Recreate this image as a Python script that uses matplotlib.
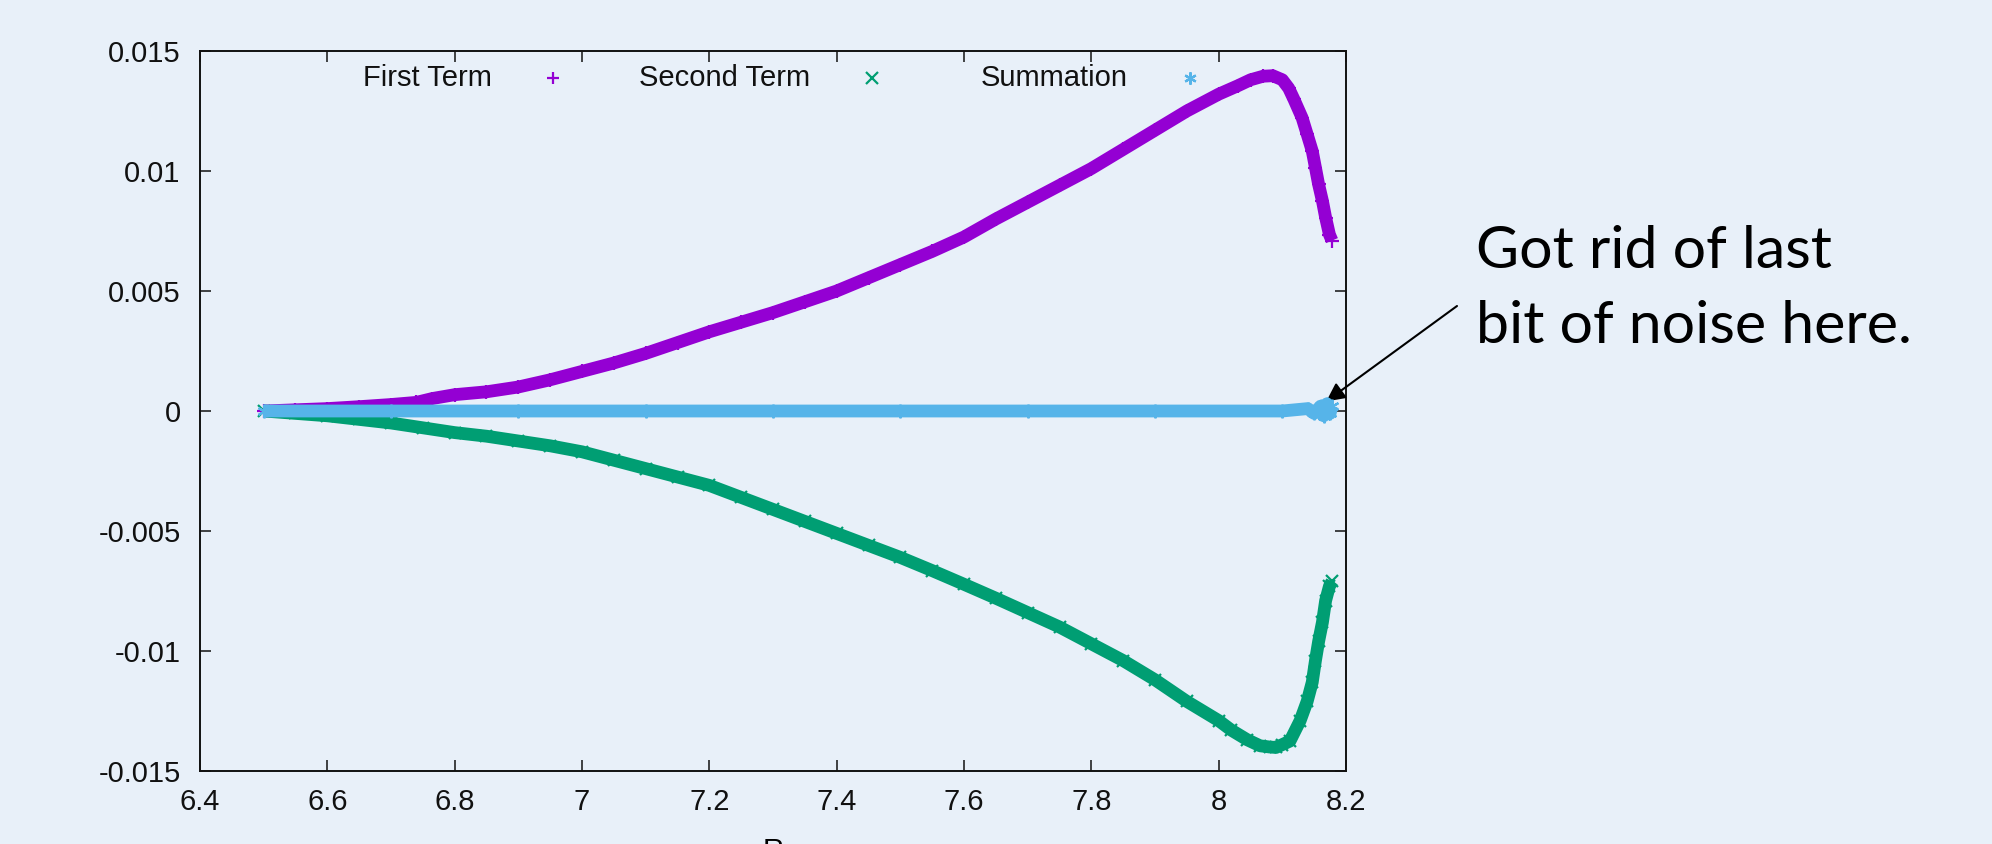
import matplotlib
matplotlib.use("Agg")
import matplotlib.pyplot as plt

# ---- data ----
first_x = [6.50, 6.55, 6.60, 6.65, 6.70, 6.74, 6.765, 6.80, 6.85, 6.90, 6.95, 7.00,
           7.05, 7.10, 7.15, 7.20, 7.25, 7.30, 7.35, 7.40, 7.45, 7.50, 7.55, 7.60,
           7.65, 7.70, 7.75, 7.80, 7.85, 7.90, 7.95, 8.00, 8.03, 8.05, 8.07, 8.085,
           8.10, 8.11, 8.118, 8.131, 8.139, 8.147, 8.152, 8.157, 8.163, 8.168,
           8.174, 8.178]
first_y = [0.0, 0.00005, 0.0001, 0.00018, 0.00027, 0.00036, 0.00052, 0.00068, 0.0008,
           0.0010, 0.0013, 0.00165, 0.0020, 0.0024, 0.00285, 0.0033, 0.0037, 0.0041,
           0.00455, 0.0050, 0.00555, 0.0061, 0.00665, 0.00725, 0.0080, 0.0087, 0.0094,
           0.0101, 0.0109, 0.0117, 0.0125, 0.0132, 0.01355, 0.0138, 0.01395, 0.01397,
           0.0138, 0.01345, 0.0130, 0.01222, 0.01153, 0.01083, 0.01014, 0.00944,
           0.00875, 0.00806, 0.00735, 0.0071]

second_x = [6.50, 6.55, 6.60, 6.65, 6.70, 6.75, 6.80, 6.85, 6.90, 6.95, 7.00, 7.05,
            7.10, 7.15, 7.20, 7.25, 7.30, 7.35, 7.40, 7.45, 7.50, 7.55, 7.60, 7.65,
            7.70, 7.75, 7.80, 7.85, 7.90, 7.95, 8.00, 8.02, 8.045, 8.065, 8.08, 8.09,
            8.10, 8.112, 8.128, 8.139, 8.147, 8.152, 8.157, 8.163, 8.168, 8.174, 8.178]
second_y = [0.0, -0.0001, -0.0002, -0.00035, -0.0005, -0.0007, -0.0009, -0.00105,
            -0.00125, -0.00145, -0.0017, -0.00205, -0.0024, -0.00275, -0.0031, -0.0036,
            -0.0041, -0.0046, -0.0051, -0.0056, -0.0061, -0.00665, -0.00722, -0.0078,
            -0.0084, -0.0090, -0.0097, -0.0104, -0.0112, -0.0121, -0.0129, -0.0133,
            -0.0137, -0.01395, -0.0140, -0.01402, -0.0139, -0.01375, -0.0129, -0.0121,
            -0.0113, -0.0104, -0.0096, -0.0088, -0.0079, -0.0073, -0.0071]

sum_x = [6.50, 6.70, 6.90, 7.10, 7.30, 7.50, 7.70, 7.90, 8.10, 8.14, 8.15, 8.16,
         8.165, 8.17, 8.175, 8.178]
sum_y = [0.0, 0.0, 0.0, 0.0, 0.0, 0.0, 0.0, 0.0, 0.0, 0.0001, -0.0001, 0.0002,
         -0.0002, 0.0003, -0.0001, 0.0002]

series_labels = ["First Term", "Second Term", "Summation"]
x_ticks = [6.4, 6.6, 6.8, 7.0, 7.2, 7.4, 7.6, 7.8, 8.0, 8.2]
x_tick_labels = ["6.4", "6.6", "6.8", "7", "7.2", "7.4", "7.6", "7.8", "8", "8.2"]
y_ticks = [0.015, 0.01, 0.005, 0.0, -0.005, -0.01, -0.015]
y_tick_labels = ["0.015", "0.01", "0.005", "0", "-0.005", "-0.01", "-0.015"]
x_label = "R"
note_lines = ["Got rid of last", "bit of noise here."]

# ---- style ----
W, H = 1992, 844
BG = "#E8F0F9"
C1, C2, C3 = "#9400D3", "#009E73", "#56B4E9"
FONT = "Liberation Sans"

fig = plt.figure(figsize=(W / 100, H / 100), dpi=100, facecolor=BG)
ax = fig.add_axes([200 / W, 1 - 771 / H, 1146 / W, 720 / H])
ax.set_facecolor("none")

lw_band = 9.2
ms = 8.8
line_kw = dict(lw=lw_band, solid_capstyle="butt", solid_joinstyle="round")
ax.plot(first_x, first_y, color=C1, zorder=2, **line_kw)
ax.plot(first_x, first_y, ls="none", marker="+", ms=ms + 1, mew=1.6, color=C1, zorder=2)
ax.plot(second_x, second_y, color=C2, zorder=3, **line_kw)
ax.plot(second_x, second_y, ls="none", marker="x", ms=ms, mew=1.6, color=C2, zorder=3)
ax.plot(sum_x, sum_y, color=C3, zorder=4, **line_kw)
ax.plot(sum_x, sum_y, ls="none", marker=(6, 2, 0), ms=ms + 1, mew=1.6, color=C3, zorder=4)

ax.set_xlim(6.4, 8.2)
ax.set_ylim(-0.015, 0.015)
ax.set_xticks(x_ticks)
ax.set_xticklabels(x_tick_labels, fontfamily=FONT, fontsize=21)
ax.set_yticks(y_ticks)
ax.set_yticklabels(y_tick_labels, fontfamily=FONT, fontsize=21)
ax.tick_params(direction="in", length=8, width=1.1, top=True, right=True, colors="#111111")
ax.tick_params(axis="x", pad=12)
ax.tick_params(axis="y", pad=14)
for s in ax.spines.values():
    s.set_linewidth(1.4)
    s.set_color("#111111")

ax.set_xlabel(x_label, fontfamily=FONT, fontsize=21)
ax.xaxis.set_label_coords(0.5, (771 - 837) / 720)

# legend (gnuplot-style horizontal key)
text_right = [0.2548, 0.5323, 0.8098]
mark_x = [0.308, 0.5864, 0.8639]
key_y = (771 - 78) / 720
markers = ["+", "x", (6, 2, 0)]
for lab, tr, mx, c, m in zip(series_labels, text_right, mark_x, [C1, C2, C3], markers):
    ax.text(tr, key_y, lab, transform=ax.transAxes, ha="right", va="center",
            fontfamily=FONT, fontsize=21, color="#111111")
    ax.plot([mx], [key_y], transform=ax.transAxes, marker=m, ms=ms, mew=1.6,
            color=c, ls="none", clip_on=False)

# annotation
NOTE_FONT = "Lato"
for line, base in zip(note_lines, [268, 343]):
    fig.text(1476 / W, 1 - base / H, line, fontfamily=NOTE_FONT, fontsize=42.5,
             va="baseline", ha="left", color="black")
ax.annotate("", xy=(sum_x[-2] - 0.006, 0.0004), xycoords="data",
            xytext=(1457 / W, 1 - 306 / H), textcoords="figure fraction",
            arrowprops=dict(arrowstyle="-|>", color="black", lw=1.5,
                            mutation_scale=28, shrinkA=0, shrinkB=0))

fig.savefig("out.png", dpi=100, facecolor=BG)
